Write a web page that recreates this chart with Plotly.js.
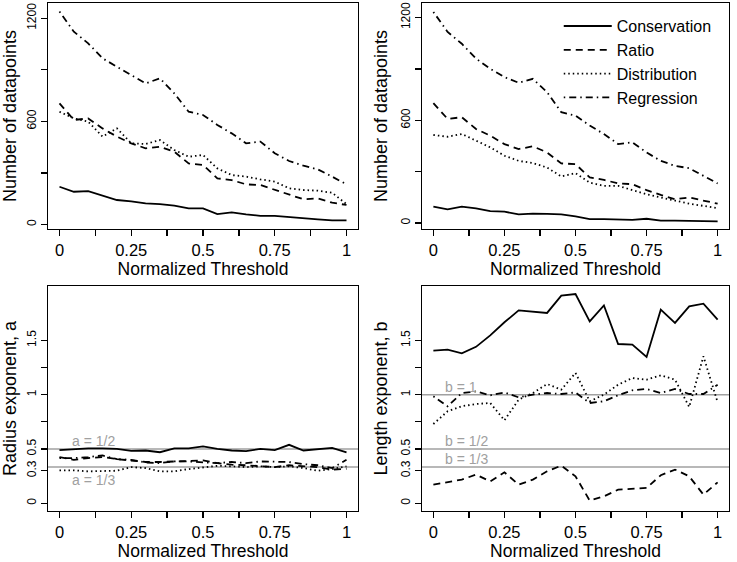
<!DOCTYPE html>
<html>
<head>
<meta charset="utf-8">
<script src="https://cdn.plot.ly/plotly-3.0.1.min.js"></script>
<style>
  html, body { margin: 0; padding: 0; background: #fff; }
  #chart { width: 737px; height: 562px; }
</style>
</head>
<body>
<div id="chart"></div>
<script>
// normalized threshold values (x for every panel)
const thr = [0, 0.05, 0.1, 0.15, 0.2, 0.25, 0.3, 0.35, 0.4, 0.45, 0.5,
             0.55, 0.6, 0.65, 0.7, 0.75, 0.8, 0.85, 0.9, 0.95, 1];

const methods = ["Conservation", "Ratio", "Distribution", "Regression"];

// top left: number of datapoints
const countA_cons = [219, 190, 194, 167, 142, 134, 122, 118, 109, 93, 93, 60, 70, 58, 50, 49, 41, 33, 29, 23, 23];
const countA_ratio = [705, 608, 617, 559, 511, 472, 443, 452, 423, 355, 346, 268, 258, 233, 229, 200, 171, 146, 151, 126, 113];
const countA_dist = [656, 617, 598, 511, 559, 472, 468, 491, 433, 394, 404, 326, 287, 278, 262, 249, 210, 200, 196, 184, 118];
const countA_regr = [1239, 1122, 1054, 967, 918, 870, 821, 850, 763, 656, 637, 579, 530, 472, 482, 414, 369, 342, 320, 278, 233];

// top right: number of datapoints
const countB_cons = [96, 80, 96, 86, 70, 66, 51, 55, 53, 51, 39, 23, 23, 21, 18, 25, 14, 14, 12, 10, 10];
const countB_ratio = [700, 608, 618, 549, 510, 461, 432, 448, 412, 348, 344, 266, 252, 231, 227, 192, 164, 139, 149, 129, 113];
const countB_dist = [514, 504, 520, 481, 442, 393, 363, 350, 324, 272, 291, 236, 217, 217, 193, 168, 149, 129, 113, 100, 86];
const countB_regr = [1233, 1116, 1047, 960, 901, 852, 819, 842, 764, 647, 627, 569, 520, 461, 471, 412, 363, 334, 320, 276, 231];

// bottom left: radius exponent a
const radius_cons = [0.49, 0.50, 0.505, 0.505, 0.50, 0.483, 0.486, 0.47, 0.505, 0.505, 0.523, 0.50, 0.486, 0.48, 0.50, 0.49, 0.538, 0.486, 0.50, 0.51, 0.468];
const radius_ratio = [0.425, 0.40, 0.416, 0.425, 0.407, 0.395, 0.38, 0.38, 0.385, 0.39, 0.395, 0.37, 0.355, 0.35, 0.34, 0.333, 0.35, 0.34, 0.333, 0.31, 0.318];
const radius_dist = [0.303, 0.303, 0.294, 0.30, 0.30, 0.333, 0.324, 0.294, 0.294, 0.315, 0.333, 0.345, 0.34, 0.333, 0.34, 0.333, 0.34, 0.324, 0.30, 0.315, 0.34];
const radius_regr = [0.416, 0.416, 0.425, 0.44, 0.407, 0.40, 0.376, 0.37, 0.385, 0.385, 0.376, 0.37, 0.38, 0.37, 0.385, 0.385, 0.38, 0.36, 0.35, 0.324, 0.40];

// bottom right: length exponent b
const length_cons = [1.405, 1.414, 1.38, 1.44, 1.546, 1.666, 1.776, 1.767, 1.752, 1.911, 1.926, 1.675, 1.822, 1.466, 1.46, 1.347, 1.782, 1.66, 1.813, 1.837, 1.69];
const length_ratio = [0.172, 0.196, 0.218, 0.264, 0.202, 0.285, 0.172, 0.218, 0.294, 0.347, 0.248, 0.025, 0.064, 0.126, 0.135, 0.141, 0.258, 0.31, 0.248, 0.08, 0.193];
const length_dist = [0.73, 0.847, 0.893, 0.914, 0.923, 0.764, 0.954, 1.015, 1.098, 1.046, 1.2, 0.939, 1.0, 1.092, 1.153, 1.138, 1.178, 1.138, 0.887, 1.353, 0.93];
const length_regr = [0.985, 0.893, 1.015, 1.03, 0.994, 1.02, 0.975, 1.0, 1.015, 1.006, 1.02, 0.923, 0.939, 0.994, 1.04, 1.052, 1.015, 1.052, 1.006, 1.006, 1.09];

// reference exponents
const refA = [1 / 2, 1 / 3];
const refA_text = ["a = 1/2", "a = 1/3"];
const refB = [1, 1 / 2, 1 / 3];
const refB_text = ["b = 1", "b = 1/2", "b = 1/3"];

const dashes = ["solid", "7px,5px", "1.5px,3px", "1.5px,4px,7px,4px"];
const FONT = "Liberation Sans, Arial, Helvetica, sans-serif";
const GRAY = "#a0a0a0";

function panel(series, xa, ya, legend) {
  return series.map((ys, i) => ({
    x: thr,
    y: ys,
    xaxis: xa,
    yaxis: ya,
    mode: "lines",
    name: methods[i],
    showlegend: legend,
    line: { color: "black", width: 1.8, dash: dashes[i] },
    hoverinfo: "skip",
  }));
}

const traces = [
  ...panel([countA_cons, countA_ratio, countA_dist, countA_regr], "x", "y", false),
  ...panel([countB_cons, countB_ratio, countB_dist, countB_regr], "x2", "y2", true),
  ...panel([radius_cons, radius_ratio, radius_dist, radius_regr], "x3", "y3", false),
  ...panel([length_cons, length_ratio, length_dist, length_regr], "x4", "y4", false),
];

const xTicks = [0, 0.125, 0.25, 0.375, 0.5, 0.625, 0.75, 0.875, 1];
const xText = ["0", "", "0.25", "", "0.5", "", "0.75", "", "1"];
const countTicks = [0, 300, 600, 900, 1200];
const countText = ["0", "", "600", "", "1200"];
const expTicks = [0, 0.3, 0.5, 0.75, 1, 1.25, 1.5];
const expText = ["0", "0.3", "0.5", "", "1", "", "1.5"];

// plot area: x 48..729, y 3..511
const colL = [0, 0.4552], colR = [0.5492, 1];
const rowT = [0.5551, 1], rowB = [0, 0.4429];

function xAxis(domain, anchor) {
  return {
    domain: domain, anchor: anchor, range: [-0.04, 1.04],
    showline: true, mirror: true, linecolor: "black", linewidth: 1.3,
    ticks: "outside", ticklen: 6, tickwidth: 1.3, tickcolor: "black",
    tickmode: "array", tickvals: xTicks, ticktext: xText,
    tickfont: { size: 16.5 }, showgrid: false, zeroline: false,
    title: { text: "Normalized Threshold", font: { size: 17.5 }, standoff: 1 },
  };
}

function yAxis(domain, anchor, range, vals, text, title) {
  return {
    domain: domain, anchor: anchor, range: range,
    showline: true, mirror: true, linecolor: "black", linewidth: 1.3,
    ticks: "outside", ticklen: 6, tickwidth: 1.3, tickcolor: "black",
    tickmode: "array", tickvals: vals, ticktext: text, tickangle: -90,
    tickfont: { size: 12 }, showgrid: false, zeroline: false,
    title: { text: title, font: { size: 18 }, standoff: 6 },
  };
}

const shapes = [];
const annotations = [];
refA.forEach((v, i) => {
  shapes.push({ type: "line", xref: "x3 domain", x0: 0, x1: 1, yref: "y3", y0: v, y1: v,
    line: { color: GRAY, width: 1.5 }, layer: "below" });
  annotations.push({ xref: "x3", yref: "y3", x: 0.035, y: v, text: refA_text[i],
    xanchor: "left", yanchor: i === 0 ? "bottom" : "top", yshift: i === 0 ? -2 : -3,
    showarrow: false, font: { size: 14, color: GRAY } });
});
refB.forEach((v, i) => {
  shapes.push({ type: "line", xref: "x4 domain", x0: 0, x1: 1, yref: "y4", y0: v, y1: v,
    line: { color: GRAY, width: 1.5 }, layer: "below" });
  annotations.push({ xref: "x4", yref: "y4", x: 0.035, y: v, text: refB_text[i],
    xanchor: "left", yanchor: "bottom", yshift: -2,
    showarrow: false, font: { size: 14, color: GRAY } });
});

const layout = {
  width: 737, height: 562,
  margin: { l: 48, r: 8, t: 3, b: 51 },
  paper_bgcolor: "white", plot_bgcolor: "white",
  font: { family: FONT, color: "black" },
  xaxis: xAxis(colL, "y"),
  yaxis: yAxis(rowT, "x", [-27, 1289], countTicks, countText, "Number of datapoints"),
  xaxis2: xAxis(colR, "y2"),
  yaxis2: yAxis(rowT, "x2", [-35, 1285], countTicks, countText, "Number of datapoints"),
  xaxis3: xAxis(colL, "y3"),
  yaxis3: yAxis(rowB, "x3", [-0.071, 2.0], expTicks, expText, "Radius exponent, a"),
  xaxis4: xAxis(colR, "y4"),
  yaxis4: yAxis(rowB, "x4", [-0.071, 2.0], expTicks, expText, "Length exponent, b"),
  shapes: shapes,
  annotations: annotations,
  showlegend: true,
  legend: {
    x: 0.750, y: 0.988, xanchor: "left", yanchor: "top",
    bgcolor: "rgba(0,0,0,0)", font: { size: 16 }, itemwidth: 48,
  },
};

Plotly.newPlot("chart", traces, layout, { displayModeBar: false, staticPlot: true });
</script>
</body>
</html>
